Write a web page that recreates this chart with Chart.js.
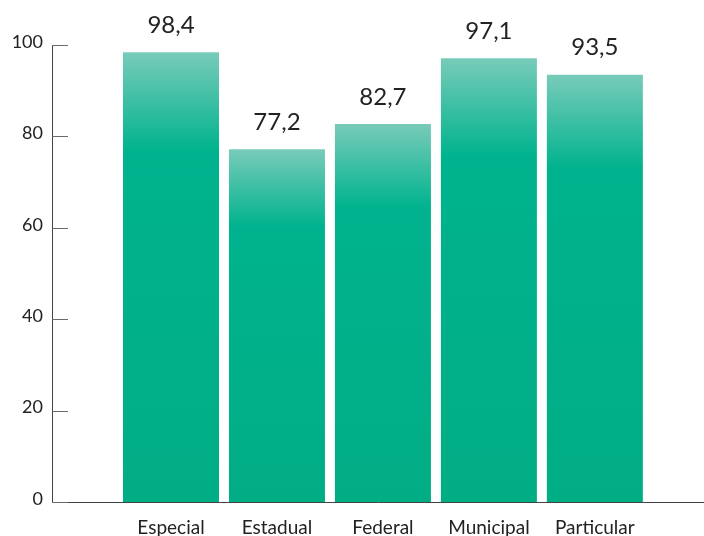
<!DOCTYPE html>
<html lang="pt-BR">
<head>
<meta charset="utf-8">
<title>Escolas por dependência administrativa</title>
<script src="https://cdn.jsdelivr.net/npm/chart.js@4.4.1/dist/chart.umd.min.js"></script>
<style>
    html, body { margin: 0; padding: 0; background: #fff; }
    #wrap { width: 704px; height: 536px; position: relative; }
</style>
</head>
<body>
<div id="wrap"><canvas id="bars"></canvas></div>
<script>
const categories = ['Especial', 'Estadual', 'Federal', 'Municipal', 'Particular'];
const percentages = [98.4, 77.2, 82.7, 97.1, 93.5];
const yTicks = [0, 20, 40, 60, 80, 100];

const FONT = 'Lato, "Open Sans", sans-serif';

function formatValue(v) {
    return v.toFixed(1).replace('.', ',');
}

// light top fading into solid green, per bar
function barGradient(context) {
    const chart = context.chart;
    const y = chart.scales.y;
    if (!chart.chartArea || !y || context.type !== 'data') return '#00b08a';
    const top = y.getPixelForValue(percentages[context.dataIndex]);
    const bottom = y.getPixelForValue(0);
    if (!isFinite(top) || !isFinite(bottom) || top === bottom) return '#00b08a';
    const g = chart.ctx.createLinearGradient(0, top, 0, bottom);
    g.addColorStop(0, '#78cbb9');
    g.addColorStop(0.22, '#00b38e');
    g.addColorStop(1, '#01ad85');
    return g;
}

// short tick marks pointing into the plot
const innerTicks = {
    id: 'innerTicks',
    afterDraw(chart) {
        const { ctx, scales: { y }, chartArea } = chart;
        ctx.save();
        ctx.strokeStyle = '#6a6a6a';
        ctx.lineWidth = 1;
        yTicks.forEach(t => {
            const py = Math.round(y.getPixelForValue(t)) + 0.5;
            ctx.beginPath();
            ctx.moveTo(chartArea.left, py);
            ctx.lineTo(chartArea.left + 16, py);
            ctx.stroke();
        });
        ctx.restore();
    }
};

// value labels above each bar
const valueLabels = {
    id: 'valueLabels',
    afterDatasetsDraw(chart) {
        const { ctx } = chart;
        const meta = chart.getDatasetMeta(0);
        ctx.save();
        ctx.font = '24px ' + FONT;
        ctx.fillStyle = '#222';
        ctx.textAlign = 'center';
        ctx.textBaseline = 'middle';
        meta.data.forEach((bar, i) => {
            ctx.fillText(formatValue(percentages[i]), bar.x, bar.y - 27);
        });
        ctx.restore();
    }
};

new Chart(document.getElementById('bars'), {
    type: 'bar',
    data: {
        datasets: [{
            data: percentages.map((v, i) => ({ x: i, y: v })),
            backgroundColor: barGradient,
            borderWidth: 0,
            categoryPercentage: 1,
            barPercentage: 0.906
        }]
    },
    options: {
        responsive: true,
        maintainAspectRatio: false,
        animation: false,
        layout: { padding: { top: 45, right: 0, left: 0, bottom: 0 } },
        plugins: {
            legend: { display: false },
            tooltip: { enabled: false }
        },
        scales: {
            x: {
                type: 'linear',
                offset: false,
                min: -1.123,
                max: 5.03,
                afterBuildTicks: axis => {
                    axis.ticks = categories.map((_, i) => ({ value: i }));
                },
                afterFit: axis => {
                    axis.height = 34;
                    axis.paddingLeft = 0;
                    axis.paddingRight = 0;
                },
                grid: { display: false, drawTicks: false },
                border: { display: true, color: '#444', width: 1 },
                ticks: {
                    autoSkip: false,
                    maxRotation: 0,
                    padding: 14,
                    color: '#222',
                    font: { family: FONT, size: 19 },
                    callback: v => categories[v] ?? ''
                }
            },
            y: {
                min: 0,
                max: 100,
                afterBuildTicks: axis => {
                    axis.ticks = yTicks.map(v => ({ value: v }));
                },
                afterFit: axis => { axis.width = 52; },
                grid: { display: false, drawTicks: false },
                border: { display: true, color: '#444', width: 1 },
                ticks: {
                    padding: 9,
                    labelOffset: -3,
                    color: '#222',
                    font: { family: FONT, size: 18 }
                }
            }
        }
    },
    plugins: [innerTicks, valueLabels]
});
</script>
</body>
</html>
